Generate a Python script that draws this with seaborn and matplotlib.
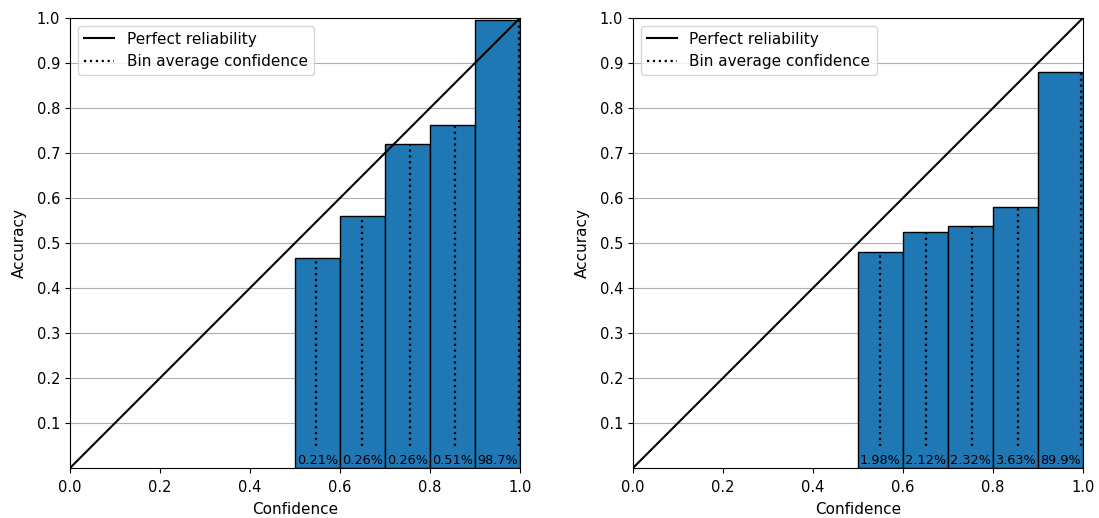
# Reliability diagrams for two models: accuracy per confidence bin,
# bin average confidence (dotted) and share of samples per bin.

import matplotlib
matplotlib.use("Agg")
import matplotlib.pyplot as plt
import seaborn as sns
from matplotlib.lines import Line2D

bin_edges = [0.5, 0.6, 0.7, 0.8, 0.9, 1.0]

# left model
conf_a = [0.547, 0.649, 0.756, 0.856, 0.998]
acc_a = [0.467, 0.560, 0.720, 0.762, 0.995]
share_a = ["0.21%", "0.26%", "0.26%", "0.51%", "98.7%"]

# right model
conf_b = [0.549, 0.651, 0.753, 0.856, 0.996]
acc_b = [0.480, 0.524, 0.538, 0.580, 0.880]
share_b = ["1.98%", "2.12%", "2.32%", "3.63%", "89.9%"]

y_ticks = [0.1, 0.2, 0.3, 0.4, 0.5, 0.6, 0.7, 0.8, 0.9, 1.0]
x_ticks = [0.0, 0.2, 0.4, 0.6, 0.8, 1.0]


def reliability(ax, conf, acc, share):
    sns.histplot(x=conf, weights=acc, bins=bin_edges, color="#1f77b4",
                 alpha=1, edgecolor="black", linewidth=1, ax=ax, zorder=2)
    sns.lineplot(x=[0, 1], y=[0, 1], color="black", linewidth=1.5,
                 ax=ax, zorder=3)
    ax.vlines(conf, 0.05, acc, colors="black", linestyles=":",
              linewidth=1.6, zorder=3)
    centers = [(lo + hi) / 2 for lo, hi in zip(bin_edges[:-1], bin_edges[1:])]
    for c, s in zip(centers, share):
        ax.text(c, 0.003, s, ha="center", va="bottom", fontsize=9.3, zorder=4)

    ax.set_xlim(0, 1)
    ax.set_ylim(0, 1)
    ax.set_xticks(x_ticks)
    ax.set_yticks(y_ticks)
    ax.tick_params(labelsize=10.5)
    ax.tick_params(axis="x", pad=5)
    ax.set_xlabel("Confidence", fontsize=11, labelpad=5)
    ax.set_ylabel("Accuracy", fontsize=11, labelpad=7)
    ax.grid(axis="y", color="#b0b0b0", linewidth=0.8, zorder=0)
    ax.set_axisbelow(True)

    handles = [
        Line2D([0], [0], color="black", linewidth=1.5),
        Line2D([0], [0], color="black", linestyle=":", linewidth=1.6),
    ]
    ax.legend(handles, ["Perfect reliability", "Bin average confidence"],
              loc="upper left", fontsize=11)


fig, (ax_l, ax_r) = plt.subplots(1, 2, figsize=(10.99, 5.18), dpi=100)
fig.subplots_adjust(left=0.0637, right=0.9854, top=0.9653, bottom=0.0965,
                    wspace=0.251)

reliability(ax_l, conf_a, acc_a, share_a)
reliability(ax_r, conf_b, acc_b, share_b)

fig.savefig("out.png", dpi=100)
